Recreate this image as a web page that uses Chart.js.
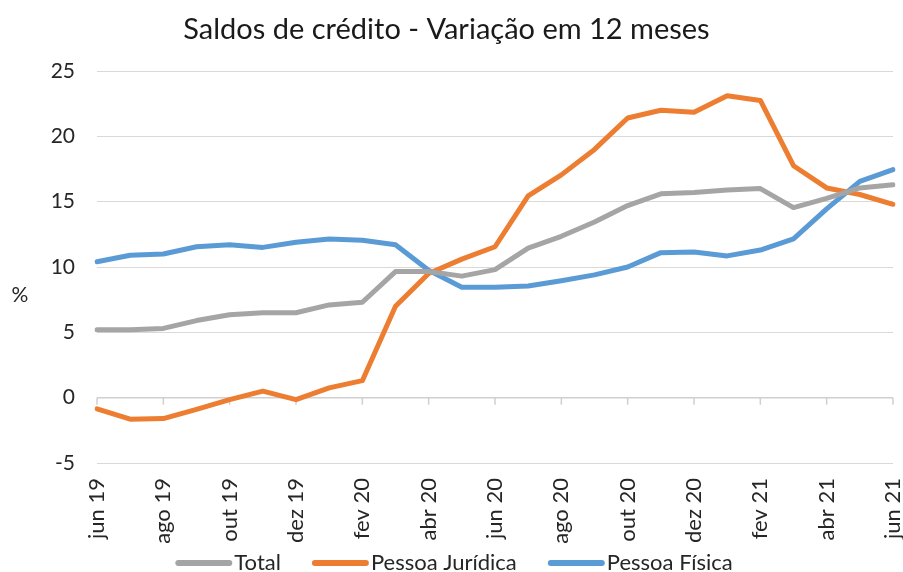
<!DOCTYPE html>
<html>
<head>
<meta charset="utf-8">
<script src="https://cdn.jsdelivr.net/npm/chart.js@4"></script>
<style>
  html, body { margin: 0; padding: 0; background: #ffffff; }
  #wrap { width: 903px; height: 572px; position: relative; }
</style>
</head>
<body>
<div id="wrap"><canvas id="c" width="903" height="572"></canvas></div>
<script>
const categories = ["jun 19","jul 19","ago 19","set 19","out 19","nov 19","dez 19","jan 20","fev 20","mar 20","abr 20","mai 20","jun 20","jul 20","ago 20","set 20","out 20","nov 20","dez 20","jan 21","fev 21","mar 21","abr 21","mai 21","jun 21"];
const total = [5.2,5.2,5.3,5.9,6.35,6.5,6.5,7.1,7.3,9.65,9.65,9.3,9.8,11.45,12.35,13.45,14.7,15.6,15.7,15.9,16.0,14.55,15.25,16.05,16.3];
const pessoaJuridica = [-0.85,-1.65,-1.6,-0.9,-0.15,0.5,-0.15,0.75,1.3,7.0,9.5,10.6,11.55,15.45,17.05,19.0,21.4,22.0,21.85,23.1,22.75,17.75,16.05,15.55,14.8];
const pessoaFisica = [10.4,10.9,11.0,11.55,11.7,11.5,11.9,12.15,12.05,11.7,9.75,8.45,8.45,8.55,8.95,9.4,10.0,11.1,11.15,10.85,11.3,12.15,14.45,16.55,17.45];
const yTicks = [-5,0,5,10,15,20,25];
const seriesNames = ["Total","Pessoa Jurídica","Pessoa Física"];
const colors = ["#A5A5A5","#ED7D31","#5B9BD5"];

const FONT = "Lato, 'Open Sans', sans-serif";

const extras = {
  id: 'extras',
  beforeDatasetsDraw(chart) {
    const ctx = chart.ctx;
    const x = chart.scales.x, y = chart.scales.y;
    const y0 = y.getPixelForValue(0);
    ctx.save();
    ctx.strokeStyle = '#d0d0d0';
    ctx.lineWidth = 1.5;
    ctx.beginPath();
    ctx.moveTo(chart.chartArea.left, y0);
    ctx.lineTo(chart.chartArea.right, y0);
    for (let i = 0; i < categories.length; i += 2) {
      const px = x.getPixelForValue(i);
      ctx.moveTo(px, y0);
      ctx.lineTo(px, y0 + 7);
    }
    ctx.stroke();
    ctx.restore();
  },
  afterDraw(chart) {
    const ctx = chart.ctx;
    ctx.save();
    ctx.fillStyle = '#262626';
    ctx.font = "21px " + FONT;
    ctx.textAlign = 'center';
    ctx.textBaseline = 'middle';
    ctx.fillText('%', 20, 295);

    // legend
    ctx.font = "22px " + FONT;
    const lineW = 57, gapText = 2, gapItem = 31;
    const widths = seriesNames.map(n => ctx.measureText(n).width);
    let totalW = 0;
    widths.forEach((w, i) => { totalW += lineW + gapText + w + (i < widths.length - 1 ? gapItem : 0); });
    let cx = 454 - totalW / 2;
    const ly = 563;
    ctx.textAlign = 'left';
    ctx.lineCap = 'round';
    ctx.lineWidth = 6;
    seriesNames.forEach((n, i) => {
      ctx.strokeStyle = colors[i];
      ctx.beginPath();
      ctx.moveTo(cx + 3, ly);
      ctx.lineTo(cx + lineW - 3, ly);
      ctx.stroke();
      ctx.fillStyle = '#262626';
      ctx.fillText(n, cx + lineW + gapText, ly);
      cx += lineW + gapText + widths[i] + gapItem;
    });
    ctx.restore();
  }
};

new Chart(document.getElementById('c'), {
  type: 'line',
  data: {
    labels: categories,
    datasets: [total, pessoaJuridica, pessoaFisica].map((d, i) => ({
      label: seriesNames[i],
      data: d,
      borderColor: colors[i],
      backgroundColor: colors[i],
      borderWidth: 5,
      pointRadius: 0,
      tension: 0,
      fill: false,
      borderJoinStyle: 'round',
      borderCapStyle: 'round'
    }))
  },
  options: {
    responsive: false,
    animation: false,
    devicePixelRatio: 1,
    layout: { padding: { left: 0, right: 10, top: 0, bottom: 23 } },
    plugins: {
      title: {
        display: true,
        text: 'Saldos de crédito - Variação em 12 meses',
        color: '#1a1a1a',
        font: { family: FONT, size: 29, weight: 'normal', lineHeight: 1.2 },
        padding: { top: 12, bottom: 24.2 }
      },
      legend: { display: false },
      tooltip: { enabled: false }
    },
    scales: {
      x: {
        type: 'category',
        offset: false,
        grid: { display: false, drawTicks: false },
        border: { display: false },
        ticks: {
          autoSkip: false,
          maxRotation: 90,
          minRotation: 90,
          padding: 15,
          color: '#262626',
          font: { family: FONT, size: 22 },
          callback: function(v, i) { return i % 2 === 0 ? categories[i] : ''; }
        },
        afterFit(scale) { scale.height = 86; scale.paddingLeft = 0; scale.paddingRight = 0; }
      },
      y: {
        min: -5,
        max: 25,
        afterBuildTicks(scale) { scale.ticks = yTicks.map(v => ({ value: v })); },
        grid: { color: '#d9d9d9', lineWidth: 1, drawTicks: false },
        border: { display: false },
        ticks: {
          padding: 22,
          color: '#262626',
          font: { family: FONT, size: 21 }
        },
        afterFit(scale) { scale.width = 97; scale.paddingTop = 0; scale.paddingBottom = 0; }
      }
    }
  },
  plugins: [extras]
});
</script>
</body>
</html>
